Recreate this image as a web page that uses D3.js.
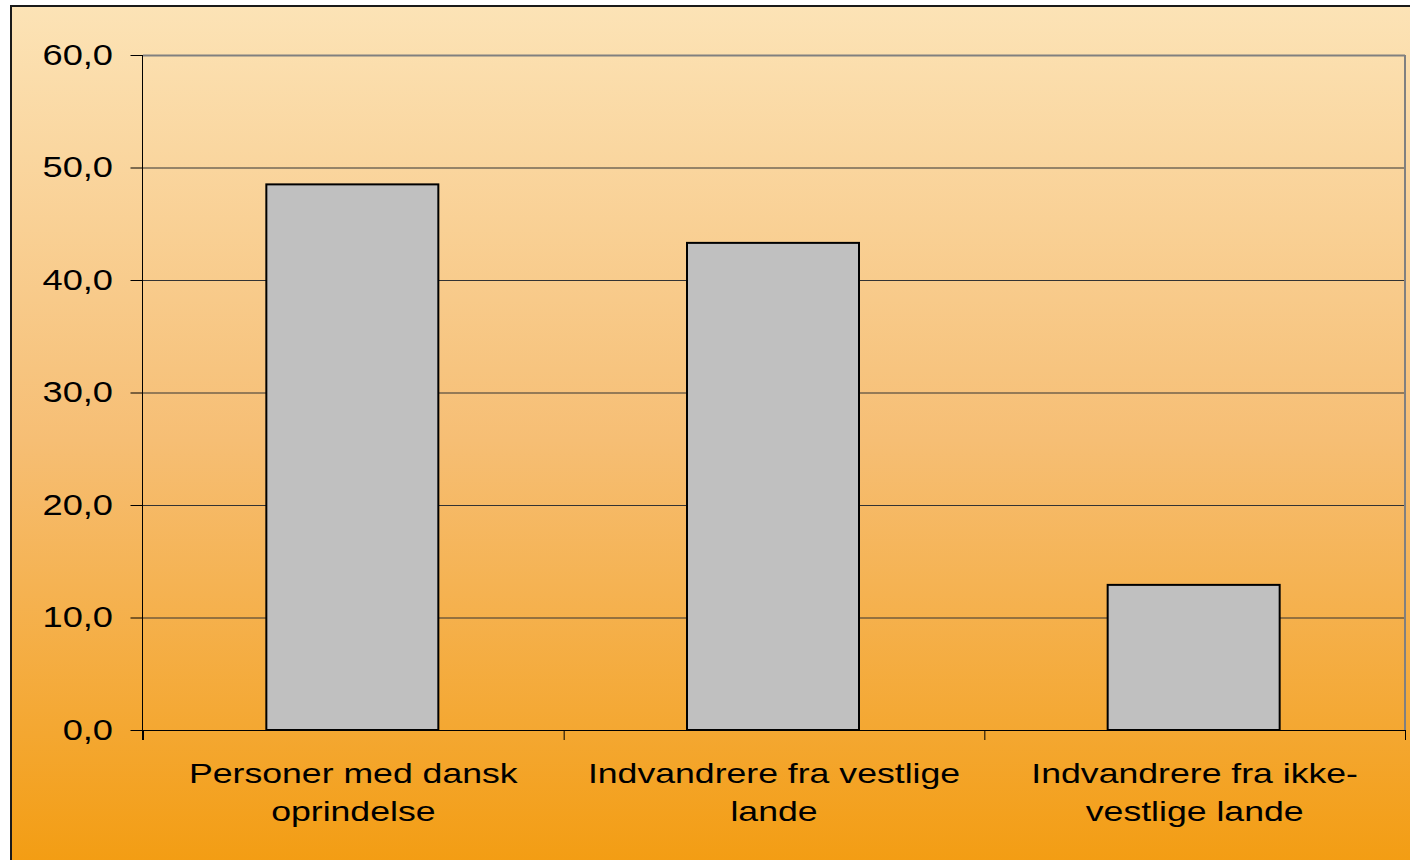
<!DOCTYPE html>
<html><head><meta charset="utf-8">
<script src="https://cdn.jsdelivr.net/npm/d3@7"></script>
<style>html,body{margin:0;padding:0;background:#fff;}svg{display:block;}</style>
</head><body>
<svg id="c" width="1410" height="860"></svg>
<script>
const categories = [["Personer med dansk","oprindelse"],["Indvandrere fra vestlige","lande"],["Indvandrere fra ikke-","vestlige lande"]];
const values = [48.5, 43.3, 12.9];
const yTicks = [0,10,20,30,40,50,60];

const svg = d3.select("#c");
const defs = svg.append("defs");
const g = defs.append("linearGradient").attr("id","bg").attr("x1",0).attr("y1",0).attr("x2",0).attr("y2",1);
g.append("stop").attr("offset","0%").attr("stop-color","#FCE3B6");
g.append("stop").attr("offset","50%").attr("stop-color","#F6BE74");
g.append("stop").attr("offset","100%").attr("stop-color","#F39C10");

svg.append("rect").attr("x",11).attr("y",6).attr("width",1410).attr("height",870)
  .attr("fill","url(#bg)").attr("stroke","#1a1a1a").attr("stroke-width",2);

const L=143, R=1405, T=55, B=730;
const SX = 1.25;
const FONT = "Liberation Sans, Arial, sans-serif";
const x = d3.scaleBand().domain(d3.range(categories.length)).range([L,R]).paddingInner(0).paddingOuter(0);
const y = d3.scaleLinear().domain([0,60]).range([B,T]);

// gridlines
svg.append("g").selectAll("line").data(yTicks.filter(d=>d>0)).join("line")
  .attr("x1",L).attr("x2",R).attr("y1",d=>y(d)+0.5).attr("y2",d=>y(d)+0.5)
  .attr("stroke",d=>d===60?"#808080":"#333").attr("stroke-width",d=>d===60?2:1);
// right border
svg.append("line").attr("x1",R).attr("x2",R).attr("y1",T).attr("y2",B).attr("stroke","#808080").attr("stroke-width",2);

// bars
const bw = 172;
svg.append("g").selectAll("rect").data(values).join("rect")
  .attr("x",(d,i)=>x(i)+x.bandwidth()/2-bw/2-1)
  .attr("y",d=>y(d))
  .attr("width",bw).attr("height",d=>B-y(d))
  .attr("fill","#C0C0C0").attr("stroke","#000").attr("stroke-width",2);

// y axis
const ya = svg.append("g").attr("transform",`translate(${L-0.5},0)`)
  .call(d3.axisLeft(y).tickValues(yTicks).tickSize(12).tickPadding(18).tickFormat(d=>d3.format(".1f")(d).replace(".",",")));
ya.select(".domain").remove();
svg.append("line").attr("x1",L-0.5).attr("x2",L-0.5).attr("y1",T).attr("y2",B+10).attr("stroke","#000").attr("stroke-width",1);
ya.selectAll(".tick line").attr("stroke","#000");
ya.selectAll("text").attr("font-family",FONT).attr("font-size",29).attr("fill","#000")
  .attr("x",-29.5/SX).attr("transform",`scale(${SX},1)`);

// x axis
svg.append("line").attr("x1",L).attr("x2",R).attr("y1",B+0.5).attr("y2",B+0.5).attr("stroke","#000").attr("stroke-width",1);
const xt = d3.range(categories.length+1).map(i=> L + i*x.bandwidth());
svg.append("g").selectAll("line").data(xt).join("line")
  .attr("x1",d=>d+0.5).attr("x2",d=>d+0.5).attr("y1",B).attr("y2",B+10).attr("stroke","#000");

const lbl = svg.append("g").selectAll("text").data(categories).join("text")
  .attr("font-family",FONT).attr("font-size",28.5).attr("fill","#000")
  .attr("text-anchor","middle")
  .attr("transform",(d,i)=>`translate(${x(i)+x.bandwidth()/2},0) scale(${SX},1)`);
lbl.each(function(d,i){
  const t=d3.select(this);
  d.forEach((s,k)=>t.append("tspan").attr("x",0).attr("y",783+k*38).text(s));
});
</script>
</body></html>
